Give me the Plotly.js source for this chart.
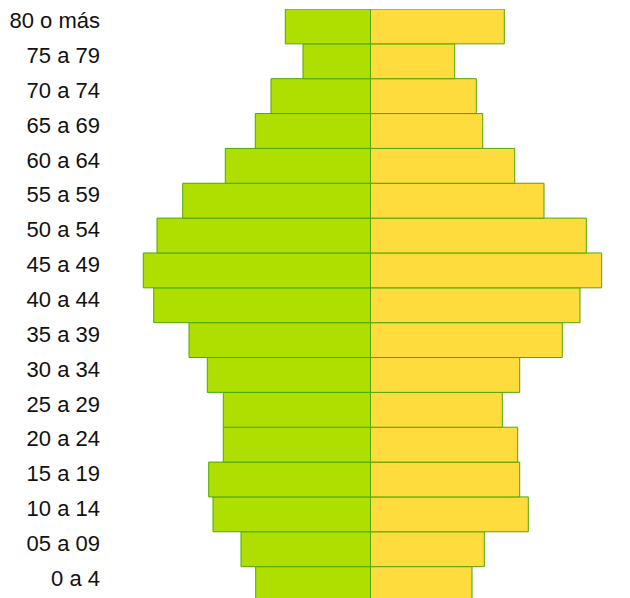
<!DOCTYPE html>
<html>
<head>
<meta charset="utf-8">
<script src="https://cdn.plot.ly/plotly-3.0.1.min.js"></script>
<style>
html,body{margin:0;padding:0;background:#fff;}
#chart{width:630px;height:598px;}
</style>
</head>
<body>
<div id="chart"></div>
<script>
var categories = ["0 a 4","05 a 09","10 a 14","15 a 19","20 a 24","25 a 29","30 a 34","35 a 39","40 a 44","45 a 49","50 a 54","55 a 59","60 a 64","65 a 69","70 a 74","75 a 79","80 o más"];
var leftValues  = [114.8,129.5,157.5,161.8,147.2,147.2,163.2,181.5,216.8,227.2,213.5,187.8,145.2,115.2,99.5,67.5,85.2];
var rightValues = [101.5,113.8,157.8,149.2,147.2,131.8,149.2,191.8,209.5,231.2,215.8,173.5,144.2,112.2,105.8,84.2,133.8];

var leftTrace = {
  type: 'bar', orientation: 'h', name: 'Hombres',
  y: categories,
  x: leftValues.map(function(v){return -v;}),
  marker: {color: '#AEDF00', line: {color: '#4FA800', width: 1}},
  hoverinfo: 'skip'
};
var rightTrace = {
  type: 'bar', orientation: 'h', name: 'Mujeres',
  y: categories,
  x: rightValues,
  marker: {color: '#FFDC3E', line: {color: '#4FA800', width: 1}},
  hoverinfo: 'skip'
};

var layout = {
  width: 630, height: 598,
  margin: {l: 101, r: 0, t: 9, b: 0, pad: 0},
  barmode: 'overlay',
  bargap: 0,
  showlegend: false,
  paper_bgcolor: '#fff', plot_bgcolor: '#fff',
  xaxis: {range: [-269.5, 259.5], visible: false, fixedrange: true},
  yaxis: {
    type: 'category',
    range: [-0.4, 16.5],
    showgrid: false, zeroline: false, showline: false,
    ticks: '', ticklabelstandoff: 0, ticklabelshift: -6,
    tickfont: {family: 'Liberation Sans, Arial, sans-serif', size: 22, color: '#111'},
    fixedrange: true
  },
  font: {family: 'Liberation Sans, Arial, sans-serif'}
};

Plotly.newPlot('chart', [leftTrace, rightTrace], layout, {staticPlot: true, displayModeBar: false});
</script>
</body>
</html>
